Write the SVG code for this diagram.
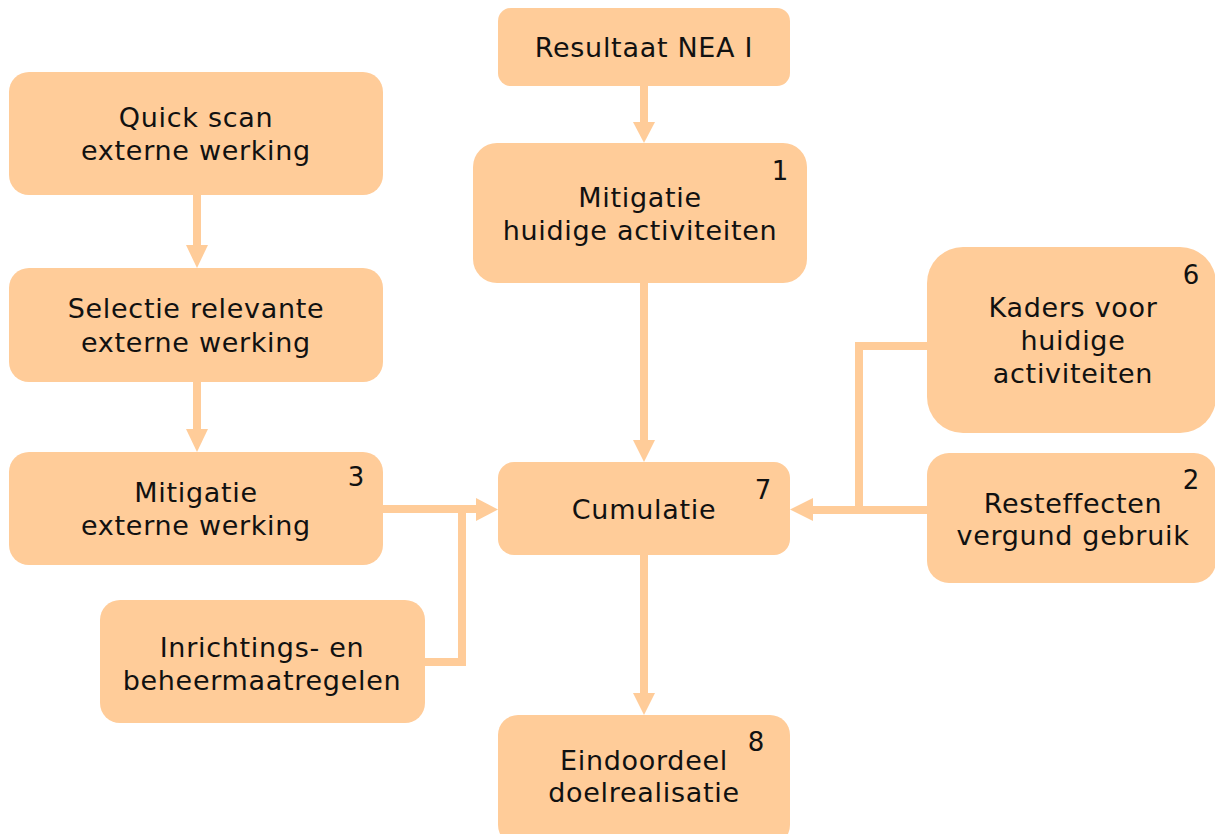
<svg xmlns="http://www.w3.org/2000/svg" width="1215" height="834" viewBox="0 0 1215 834">
<defs>
<style>
.box{fill:#FFCC99;}
.t{font-family:"DejaVu Sans","Liberation Sans",sans-serif;font-size:27px;fill:#111;text-anchor:middle;letter-spacing:0.7px;}
.n{font-family:"DejaVu Sans","Liberation Sans",sans-serif;font-size:26px;fill:#111;text-anchor:middle;}
.c{fill:none;stroke:#FFCC99;stroke-width:8;}
.h{fill:#FFCC99;}
</style>
</defs>
<rect width="1215" height="834" fill="#fff"/>
<g id="connectors">
<path class="c" d="M644,86 V124"/>
<polygon class="h" points="633,122 655,122 644,143"/>
<path class="c" d="M197,195 V247"/>
<polygon class="h" points="186,245 208,245 197,268"/>
<path class="c" d="M197,382 V431"/>
<polygon class="h" points="186,429 208,429 197,452"/>
<path class="c" d="M644,283 V442"/>
<polygon class="h" points="633,440 655,440 644,462"/>
<path class="c" d="M644,555 V695"/>
<polygon class="h" points="633,693 655,693 644,715"/>
<path class="c" d="M383,509 H478"/>
<path class="c" d="M425,662 H462 V509"/>
<polygon class="h" points="476,498 476,521 498,509.5"/>
<path class="c" d="M927,346 H859 V510 H811"/>
<path class="c" d="M927,510 H859"/>
<polygon class="h" points="813,498 813,521 790,509.5"/>
</g>
<g id="n-resultaat">
<rect class="box" x="498" y="8" width="292" height="78" rx="13"/>
<text class="t" x="644" y="57">Resultaat NEA I</text>
</g>
<g id="n-mitigatie-huidig">
<rect class="box" x="473" y="143" width="334" height="140" rx="24"/>
<text class="t" x="640" y="207">Mitigatie</text>
<text class="t" x="640" y="240">huidige activiteiten</text>
<text class="n" x="780" y="180">1</text>
</g>
<g id="n-quickscan">
<rect class="box" x="9" y="72" width="374" height="123" rx="20"/>
<text class="t" x="196" y="127">Quick scan</text>
<text class="t" x="196" y="160">externe werking</text>
</g>
<g id="n-selectie">
<rect class="box" x="9" y="268" width="374" height="114" rx="20"/>
<text class="t" x="196" y="318">Selectie relevante</text>
<text class="t" x="196" y="352">externe werking</text>
</g>
<g id="n-mitigatie-extern">
<rect class="box" x="9" y="452" width="374" height="113" rx="20"/>
<text class="t" x="196" y="502">Mitigatie</text>
<text class="t" x="196" y="535">externe werking</text>
<text class="n" x="356" y="486">3</text>
</g>
<g id="n-inrichtings">
<rect class="box" x="100" y="600" width="325" height="123" rx="20"/>
<text class="t" x="262" y="657">Inrichtings- en</text>
<text class="t" x="262" y="690">beheermaatregelen</text>
</g>
<g id="n-cumulatie">
<rect class="box" x="498" y="462" width="292" height="93" rx="16"/>
<text class="t" x="644" y="519">Cumulatie</text>
<text class="n" x="763" y="499">7</text>
</g>
<g id="n-eindoordeel">
<rect class="box" x="498" y="715" width="292" height="130" rx="20"/>
<text class="t" x="644" y="770">Eindoordeel</text>
<text class="t" x="644" y="802">doelrealisatie</text>
<text class="n" x="756" y="751">8</text>
</g>
<g id="n-kaders">
<rect class="box" x="927" y="247" width="289" height="186" rx="36"/>
<text class="t" x="1073" y="317">Kaders voor</text>
<text class="t" x="1073" y="350">huidige</text>
<text class="t" x="1073" y="383">activiteiten</text>
<text class="n" x="1191" y="284">6</text>
</g>
<g id="n-resteffecten">
<rect class="box" x="927" y="453" width="289" height="130" rx="22"/>
<text class="t" x="1073" y="513">Resteffecten</text>
<text class="t" x="1073" y="545">vergund gebruik</text>
<text class="n" x="1191" y="489">2</text>
</g>
</svg>
